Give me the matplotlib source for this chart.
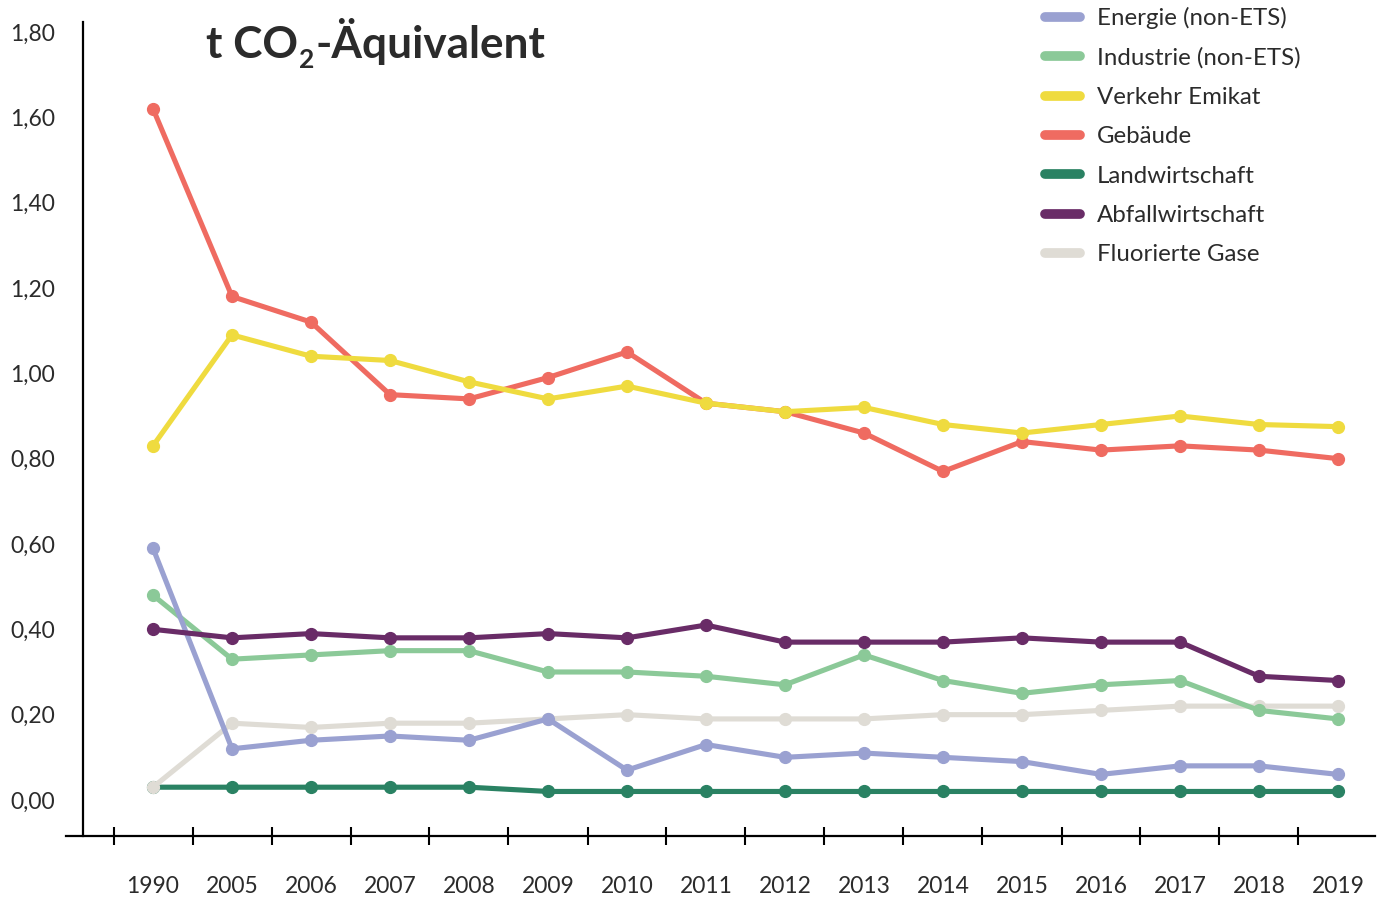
import matplotlib
matplotlib.use('Agg')
import matplotlib.pyplot as plt
from matplotlib.lines import Line2D
import numpy as np

plt.rcParams['font.family'] = ['Lato', 'DejaVu Sans']

# data (t CO2-Äquivalent pro Kopf)
years = ['1990', '2005', '2006', '2007', '2008', '2009', '2010', '2011',
         '2012', '2013', '2014', '2015', '2016', '2017', '2018', '2019']

energie = [0.59, 0.12, 0.14, 0.15, 0.14, 0.19, 0.07, 0.13,
           0.10, 0.11, 0.10, 0.09, 0.06, 0.08, 0.08, 0.06]
industrie = [0.48, 0.33, 0.34, 0.35, 0.35, 0.30, 0.30, 0.29,
             0.27, 0.34, 0.28, 0.25, 0.27, 0.28, 0.21, 0.19]
verkehr = [0.83, 1.09, 1.04, 1.03, 0.98, 0.94, 0.97, 0.93,
           0.91, 0.92, 0.88, 0.86, 0.88, 0.90, 0.88, 0.875]
gebaeude = [1.62, 1.18, 1.12, 0.95, 0.94, 0.99, 1.05, 0.93,
            0.91, 0.86, 0.77, 0.84, 0.82, 0.83, 0.82, 0.80]
landwirtschaft = [0.03, 0.03, 0.03, 0.03, 0.03, 0.02, 0.02, 0.02,
                  0.02, 0.02, 0.02, 0.02, 0.02, 0.02, 0.02, 0.02]
abfall = [0.40, 0.38, 0.39, 0.38, 0.38, 0.39, 0.38, 0.41,
          0.37, 0.37, 0.37, 0.38, 0.37, 0.37, 0.29, 0.28]
fgase = [0.03, 0.18, 0.17, 0.18, 0.18, 0.19, 0.20, 0.19,
         0.19, 0.19, 0.20, 0.20, 0.21, 0.22, 0.22, 0.22]

labels = ['Energie (non-ETS)', 'Industrie (non-ETS)', 'Verkehr Emikat', 'Gebäude',
          'Landwirtschaft', 'Abfallwirtschaft', 'Fluorierte Gase']
colors = ['#9aa1d1', '#8bc998', '#efdb3f', '#ef6b61', '#2a8263', '#692c67', '#dfdcd5']
series = [energie, industrie, verkehr, gebaeude, landwirtschaft, abfall, fgase]
zorders = [6, 5, 4, 3, 1, 7, 2]

text_col = '#2b2b2b'

W, H = 1384, 899
fig = plt.figure(figsize=(W / 100, H / 100), dpi=100)
ax = fig.add_axes([66 / W, 1 - 836 / H, (1375 - 66) / W, (836 - 22) / H])

x = np.arange(len(years))
for vals, col, lab, z in zip(series, colors, labels, zorders):
    ax.plot(x, vals, color=col, lw=3.7, marker='o', ms=8.5,
            solid_capstyle='round', label=lab, zorder=z)

# axes limits so the pixel layout matches
ax.set_xlim((66 - 153) / 79, (1375 - 153) / 79)
ax.set_ylim((800 - 836) / 426.7, (800 - 22) / 426.7)

for s in ['top', 'right']:
    ax.spines[s].set_visible(False)
ax.spines['left'].set_position(('data', (83 - 153) / 79))
ax.spines['left'].set_linewidth(1.6)
ax.spines['bottom'].set_linewidth(1.6)

yt = np.arange(0, 1.81, 0.2)
ax.set_yticks(yt)
ax.set_yticklabels([f'{v:.2f}'.replace('.', ',') for v in yt])
ax.tick_params(axis='y', length=0, pad=20, labelsize=16.5, labelcolor=text_col)

ax.set_xticks(np.arange(-0.5, len(years) - 0.5, 1))
ax.set_xticklabels([])
ax.tick_params(axis='x', which='major', direction='inout', length=13, width=1.5)
ax.set_xticks(x, minor=True)
ax.set_xticklabels(years, minor=True)
ax.tick_params(axis='x', which='minor', length=0, pad=29, labelsize=16.5, labelcolor=text_col)

# title built from pieces so the subscript sits low like in the original
renderer = fig.canvas.get_renderer()
base_y = 1 - 58 / H
t1 = fig.text(206 / W, base_y, 't CO', fontsize=31.8, fontweight='bold',
              color=text_col, ha='left', va='baseline')
x1 = t1.get_window_extent(renderer).x1 / W
t2 = fig.text(x1 + 1 / W, base_y - 10 / H, '2', fontsize=19, fontweight='bold',
              color=text_col, ha='left', va='baseline')
x2 = t2.get_window_extent(renderer).x1 / W
fig.text(x2 + 1 / W, base_y, '-Äquivalent', fontsize=31.8, fontweight='bold',
         color=text_col, ha='left', va='baseline')

handles = [Line2D([], [], color=c, lw=7, solid_capstyle='round') for c in colors]
fig.legend(handles, labels, loc='upper left', bbox_to_anchor=(1045 / W, 1 - 7 / H),
           frameon=False, fontsize=17.3, labelcolor=text_col, borderpad=0,
           borderaxespad=0, handlelength=1.45, handletextpad=0.72, labelspacing=0.76)

fig.savefig('out.png', dpi=100)
